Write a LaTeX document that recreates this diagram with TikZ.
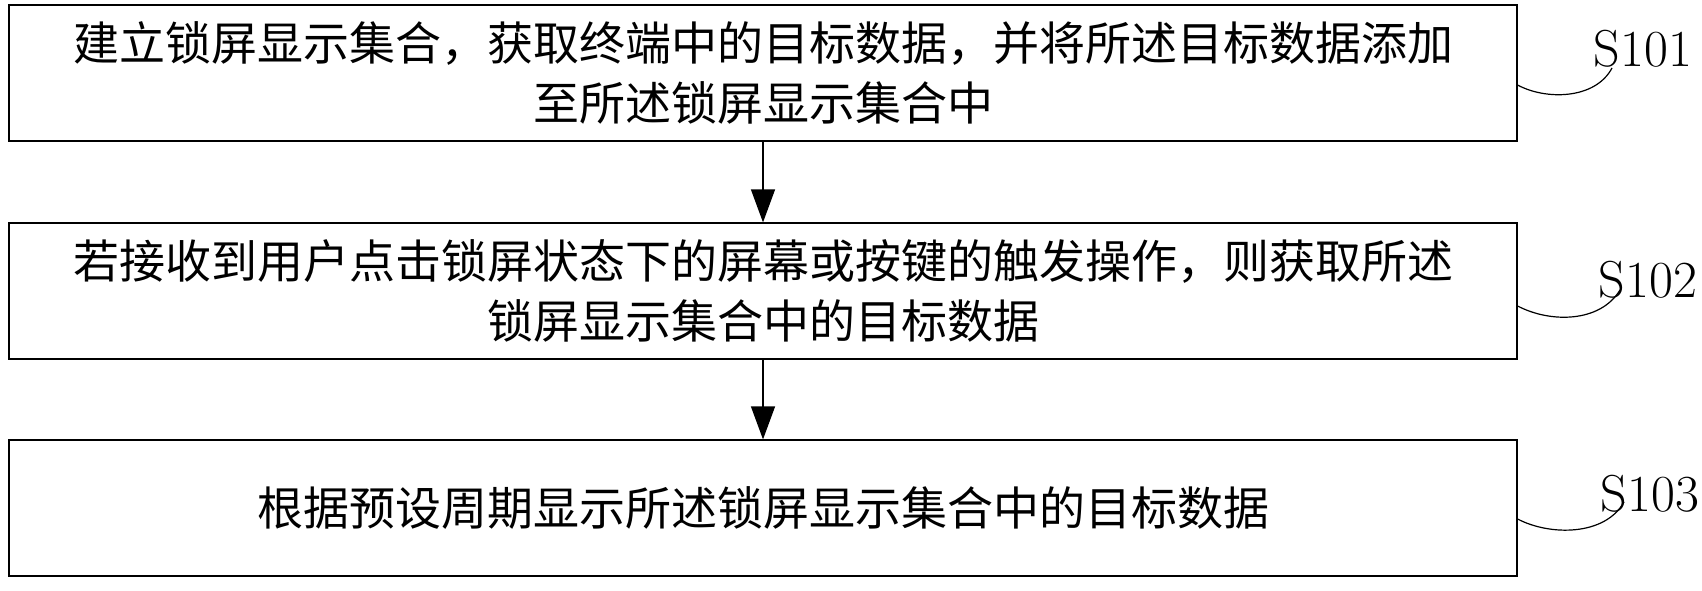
\documentclass[tikz,border=0pt]{standalone}
\usepackage{fontspec}
\newfontfamily\cjkfont{Noto Sans CJK SC}
\usetikzlibrary{arrows.meta, positioning}

\begin{document}
\begin{tikzpicture}[x=1pt, y=-1pt,
        stepbox/.style={draw=black, line width=1.2pt, rectangle, minimum width=1508pt, minimum height=136pt, align=center, font=\cjkfont\fontsize{46}{60}\selectfont},
        tag/.style={font=\fontsize{52}{60}\selectfont},
        flow/.style={line width=1.2pt, -{Triangle[length=33pt, width=24pt]}},
        hook/.style={line width=1.2pt}]
        \useasboundingbox (0,0) rectangle (1702,591);

        \node[stepbox] (s1) at (763,73) {建立锁屏显示集合，获取终端中的目标数据，并将所述目标数据添加\\至所述锁屏显示集合中};
        \node[stepbox] (s2) at (763,291) {若接收到用户点击锁屏状态下的屏幕或按键的触发操作，则获取所述\\锁屏显示集合中的目标数据};
        \node[stepbox] (s3) at (763,508) {根据预设周期显示所述锁屏显示集合中的目标数据};

        \node[tag] (t1) at (1643,49) {S101};
        \node[tag] (t2) at (1648,280) {S102};
        \node[tag] (t3) at (1650,494) {S103};

        \coordinate (c1) at (1612,68);
        \coordinate (c2) at (1620,290);
        \coordinate (c3) at (1624,502);

        \draw[flow] (s1) -- (s2);
        \draw[flow] (s2) -- (s3);

        \draw[hook] (s1.east |- 0,85) .. controls (1545,100) and (1595,100) .. (c1);
        \draw[hook] (s2.east |- 0,306) .. controls (1550,323) and (1600,323) .. (c2);
        \draw[hook] (s3.east |- 0,519) .. controls (1550,536) and (1605,536) .. (c3);
\end{tikzpicture}
\end{document}
